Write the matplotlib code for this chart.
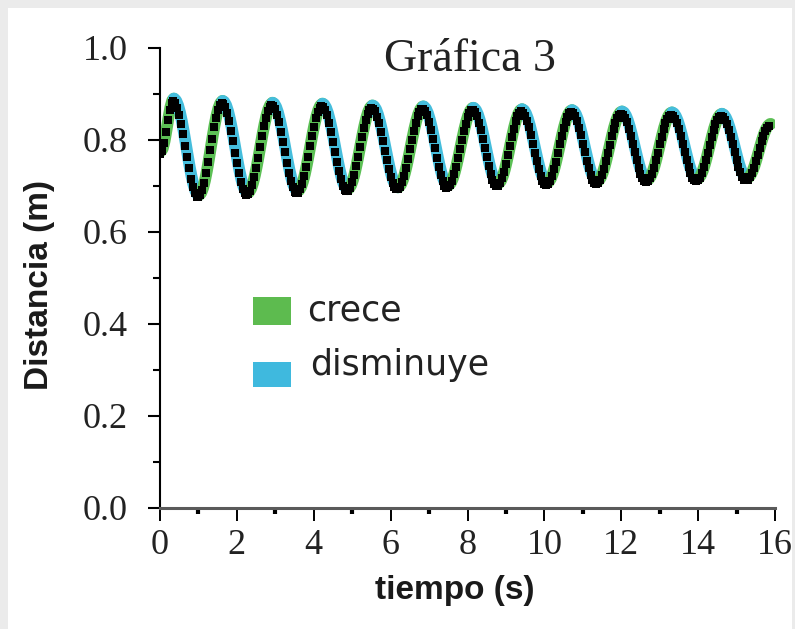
import numpy as np
import matplotlib
matplotlib.use("Agg")
import matplotlib.pyplot as plt
from matplotlib.patches import Rectangle

# puntos de giro de la oscilación (tiempo en s, distancia en m)
start_t, start_d = 0.0, 0.770
peak_t = [0.34, 1.61, 2.91, 4.21, 5.51, 6.83, 8.13, 9.40, 10.70, 12.00, 13.30, 14.60]
peak_d = [0.885, 0.880, 0.876, 0.874, 0.870, 0.868, 0.865, 0.862, 0.860, 0.857, 0.855, 0.852]
trough_t = [0.99, 2.26, 3.56, 4.86, 6.17, 7.47, 8.77, 10.05, 11.35, 12.65, 13.95, 15.25]
trough_d = [0.675, 0.680, 0.684, 0.688, 0.692, 0.696, 0.700, 0.702, 0.705, 0.708, 0.710, 0.712]
end_t, end_d = 15.87, 0.830
sample_dt = 0.05

x_ticks = [0, 2, 4, 6, 8, 10, 12, 14, 16]
y_ticks = [0.0, 0.2, 0.4, 0.6, 0.8, 1.0]

green = "#5cbf55"
cyan = "#45bddc"

# nodos ordenados: inicio, pico, valle, pico, ... , final
knot_t = [start_t]
knot_d = [start_d]
for pt, pd_, tt, td in zip(peak_t, peak_d, trough_t, trough_d):
    knot_t += [pt, tt]
    knot_d += [pd_, td]
knot_t.append(end_t)
knot_d.append(end_d)
knot_t = np.array(knot_t)
knot_d = np.array(knot_d)

t = np.arange(0, end_t, sample_dt)
seg = np.clip(np.searchsorted(knot_t, t, side="right") - 1, 0, len(knot_t) - 2)
frac = (t - knot_t[seg]) / (knot_t[seg + 1] - knot_t[seg])
d = knot_d[seg] + (knot_d[seg + 1] - knot_d[seg]) * (1 - np.cos(np.pi * frac)) / 2

fig = plt.figure(figsize=(7.95, 6.29), dpi=100, facecolor="#ebebeb")
fig.patches.append(Rectangle((8 / 795, 0), 1 - 11 / 795, 1 - 8 / 629,
                             transform=fig.transFigure, facecolor="white",
                             edgecolor="none", zorder=-5))
ax = fig.add_axes([160 / 795, 1 - 508 / 629, 615 / 795, 460 / 629])
ax.set_facecolor("none")

# tramos de color: verde cuando crece, azul cuando disminuye (un poco por encima)
for i in range(len(knot_t) - 1):
    mask = (t >= knot_t[i]) & (t <= knot_t[i + 1])
    ts = np.concatenate([[knot_t[i]], t[mask], [knot_t[i + 1]]])
    ds = np.concatenate([[knot_d[i]], d[mask], [knot_d[i + 1]]])
    color = green if knot_d[i + 1] > knot_d[i] else cyan
    ax.plot(ts + 0.02, ds + 0.005, color=color, lw=8.5, solid_capstyle="round",
            zorder=2)

ax.plot(t, d, linestyle="none", marker="s", ms=6.3, mfc="black", mec="black",
        mew=0, zorder=3)

ax.set_xlim(0, 16)
ax.set_ylim(0, 1.0)
ax.set_xticks(x_ticks)
ax.set_yticks(y_ticks)
ax.set_xticks(np.arange(1, 16, 2), minor=True)
ax.set_yticks(np.arange(0.1, 1.0, 0.2), minor=True)
ax.set_yticklabels([f"{v:.1f}" for v in y_ticks])

serif = ["Liberation Serif", "DejaVu Serif"]
for lab in ax.get_xticklabels() + ax.get_yticklabels():
    lab.set_fontfamily(serif)
    lab.set_fontsize(26)
    lab.set_color("#222222")

ax.tick_params(axis="x", which="major", direction="out", length=9, width=1.4, pad=6)
ax.tick_params(axis="x", which="minor", direction="out", length=4, width=3)
ax.tick_params(axis="y", which="major", direction="out", length=9, width=1.5, pad=14)
ax.tick_params(axis="y", which="minor", direction="out", length=5, width=1.5)

for s in ["top", "right"]:
    ax.spines[s].set_visible(False)
ax.spines["left"].set_linewidth(1.5)
ax.spines["bottom"].set_linewidth(2.2)
ax.spines["bottom"].set_color("#5a5a5a")

ax.text(8.07, 0.975, "Gráfica 3", ha="center", va="center",
        fontfamily=serif, fontsize=33, color="#222222")

# leyenda dibujada a mano
ax.add_patch(Rectangle((2.42, 0.398), 1.0, 0.061, facecolor="#5dbb4f",
                       edgecolor="none", zorder=4))
ax.add_patch(Rectangle((2.42, 0.263), 1.0, 0.054, facecolor="#3fb9de",
                       edgecolor="none", zorder=4))
ax.text(3.82, 0.43, "crece", ha="left", va="center", fontfamily="DejaVu Sans",
        fontsize=25, color="#222222")
ax.text(3.90, 0.31, "disminuye", ha="left", va="center", fontfamily="DejaVu Sans",
        fontsize=25, color="#222222")

sans = ["Liberation Sans", "DejaVu Sans"]
fig.text(40 / 795, 1 - 285 / 629, "Distancia (m)", rotation=90, ha="center",
         va="center", fontfamily=sans, fontsize=24, fontweight="bold",
         color="#1a1a1a")
fig.text(455 / 795, 1 - 590 / 629, "tiempo (s)", ha="center", va="center",
         fontfamily=sans, fontsize=24, fontweight="bold", color="#1a1a1a")

plt.savefig("out.png", dpi=100, facecolor=fig.get_facecolor())
